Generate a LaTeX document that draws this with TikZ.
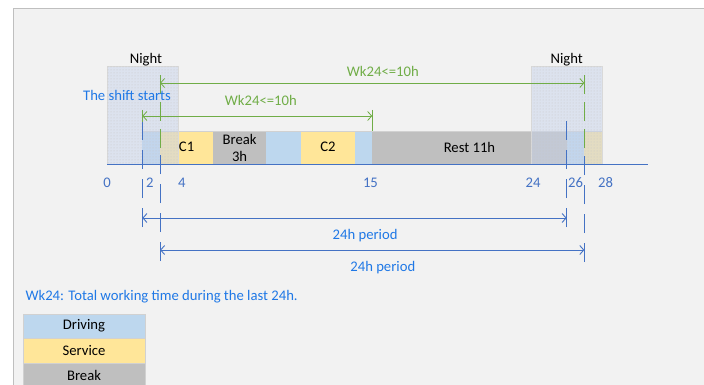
\documentclass[tikz,border=0pt]{standalone}
\usepackage{fontspec}
\setmainfont{Carlito}
\usetikzlibrary{arrows.meta,patterns}
\definecolor{drivefill}{HTML}{BDD7EE}
\definecolor{servfill}{HTML}{FFE699}
\definecolor{restfill}{HTML}{BFBFBF}
\definecolor{nightfill}{RGB}{200,212,235}
\definecolor{wkgreen}{HTML}{70AD47}
\definecolor{markblue}{HTML}{4472C4}
\definecolor{txtblue}{RGB}{31,120,230}
\definecolor{panelfill}{HTML}{F2F2F2}

\begin{document}
\begin{tikzpicture}[x=1pt,y=-1pt,
  font=\fontsize{14.67}{17}\selectfont,
  drive/.style={fill=drivefill},
  serv/.style={fill=servfill},
  rest/.style={fill=restfill},
  night/.style={fill=nightfill,fill opacity=0.5,draw=black!15},
  dots/.style={pattern=dots,pattern color=black!22},
  gline/.style={draw=wkgreen,line width=0.8pt},
  gmark/.style={gline,dash pattern=on 19pt off 8pt},
  bline/.style={draw=markblue,line width=0.9pt},
  bmark/.style={bline,dash pattern=on 19pt off 10pt},
  barbs/.style={arrows={Straight Barb[length=4pt,width=9pt]-Straight Barb[length=4pt,width=9pt]}},
  bluetxt/.style={text=txtblue},
  ticklab/.style={text=markblue},
  legbox/.style={draw=black!18,minimum width=122pt,minimum height=24.5pt,inner sep=0pt}]
\useasboundingbox (0,0) rectangle (704,385);
\clip (0,0) rectangle (704,385);
\draw[fill=panelfill,draw=black!25] (13,8) rectangle (720,400);

\begin{scope}[shift={(107,0)},x=17.68pt]
\fill[drive] (2,131) rectangle (3,164);
\fill[serv] (3,131) rectangle (4,164);
\fill[serv] (4,131) rectangle (6,164);
\fill[rest] (6,131) rectangle (9,164);
\fill[drive] (9,131) rectangle (11,164);
\fill[serv] (11,131) rectangle (14,164);
\fill[drive] (14,131) rectangle (15,164);
\fill[rest] (15,131) rectangle (26,164);
\fill[drive] (26,131) rectangle (27,164);
\fill[serv] (27,131) rectangle (28,164);
\draw[black!18] (2,131) -- (28,131);

\node (c1) at (4.5,147) {C1};
\node[align=center] (brk) at (7.5,148) {Break\\3h};
\node (c2) at (12.5,147) {C2};
\node (rst) at (20.5,147) {Rest 11h};

\draw[night] (0,66) rectangle (4,164);
\path[dots] (0,66) rectangle (4,164);
\draw[night] (24,66) rectangle (28,164);
\path[dots] (24,66) rectangle (28,164);
\node (n1) at (2.2,60) {Night};
\node (n2) at (26,60) {Night};

\coordinate (ax0) at (0,164);
\coordinate (ax1) at (30.6,164);
\draw[bline] (ax0) -- (ax1);

\node[ticklab] (t0) at (0,183) {0};
\node[ticklab] (t2) at (2.43,183) {2};
\node[ticklab] (t4) at (4.24,183) {4};
\node[ticklab] (t15) at (14.9,183) {15};
\node[ticklab] (t24) at (24.1,183) {24};
\node[ticklab] (t26) at (26.5,183) {26};
\node[ticklab] (t28) at (28.2,183) {28};

\coordinate (b2t) at (2,120);
\coordinate (b2b) at (2,227);
\coordinate (b26t) at (26,119);
\coordinate (b26b) at (26,227);
\coordinate (b3t) at (3,153);
\coordinate (b3b) at (3,261);
\coordinate (b27t) at (27,155);
\coordinate (b27b) at (27,262);
\draw[bmark] (b2b) -- (b2t);
\draw[bmark] (b26b) -- (b26t);
\draw[bmark] (b3b) -- (b3t);
\draw[bmark] (b27b) -- (b27t);

\coordinate (p1s) at (2,218);
\coordinate (p1e) at (26,218);
\coordinate (p2s) at (3,250);
\coordinate (p2e) at (27,250);
\draw[bline,barbs] (p1s) -- (p1e);
\draw[bline,barbs] (p2s) -- (p2e);
\node[bluetxt] (per1) at (14.6,236) {24h period};
\node[bluetxt] (per2) at (15.6,268) {24h period};

\coordinate (g3t) at (3,75);
\coordinate (g3b) at (3,150);
\coordinate (g27t) at (27,75);
\coordinate (g27b) at (27,148);
\draw[gmark] (g3t) -- (g3b);
\draw[gmark] (g27t) -- (g27b);
\coordinate (g2t) at (2,110);
\coordinate (g2b) at (2,122);
\coordinate (g15t) at (15,110);
\coordinate (g15b) at (15,131);
\draw[gline] (g2t) -- (g2b);
\draw[gline] (g15t) -- (g15b);

\coordinate (w1s) at (3,83);
\coordinate (w1e) at (27,83);
\coordinate (w2s) at (2,116);
\coordinate (w2e) at (15,116);
\draw[gline,barbs] (w1s) -- (w1e);
\draw[gline,barbs] (w2s) -- (w2e);
\node[text=wkgreen] (wk1) at (15.6,71) {Wk24<=10h};
\node[text=wkgreen] (wk2) at (8.7,100) {Wk24<=10h};
\end{scope}

\node[bluetxt] (start) at (127,95) {The shift starts};
\node[bluetxt,anchor=west] (note) at (22,297) {Wk24: Total working time during the last 24h.};

\node[legbox,fill=drivefill] (lgdrive) at (84,326) {Driving};
\node[legbox,fill=servfill] (lgserv) at (84,350.5) {Service};
\node[legbox,fill=restfill] (lgbreak) at (84,375) {Break};
\end{tikzpicture}
\end{document}
